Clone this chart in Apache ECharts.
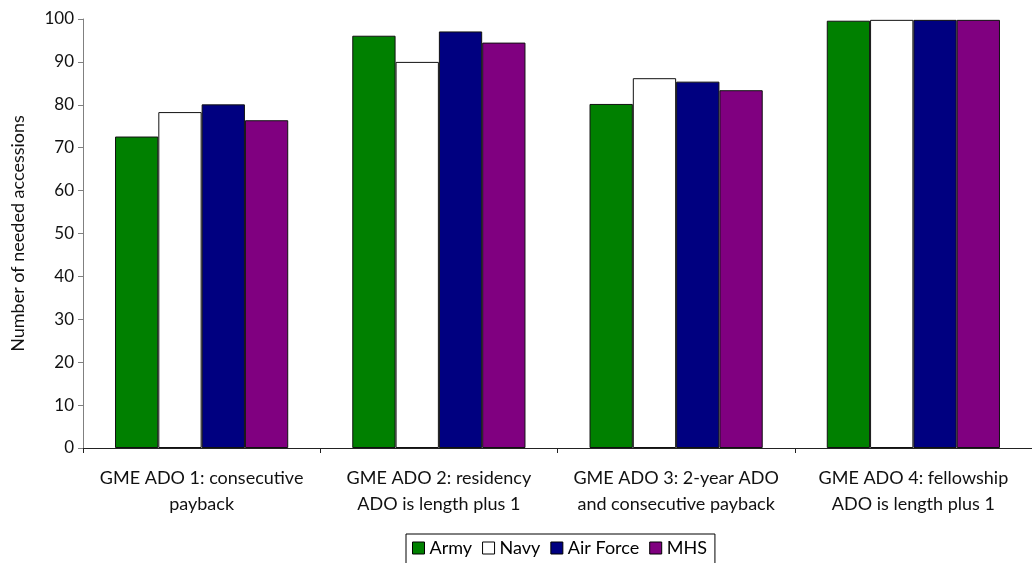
<!DOCTYPE html>
<html>
<head>
<meta charset="utf-8">
<script src="https://cdn.jsdelivr.net/npm/echarts@6/dist/echarts.min.js"></script>
<style>
  html, body { margin: 0; padding: 0; background: #fff; }
  #chart { width: 1032px; height: 563px; }
</style>
</head>
<body>
<div id="chart"></div>
<script>
// GME ADO scenarios (category labels, two lines each)
const categories = [
  'GME ADO 1: consecutive\npayback',
  'GME ADO 2: residency\nADO is length plus 1',
  'GME ADO 3: 2-year ADO\nand consecutive payback',
  'GME ADO 4: fellowship\nADO is length plus 1'
];

// Number of needed accessions per service
const army     = [72.6, 96.1, 80.2, 99.6];
const navy     = [78.3, 90.0, 86.2, 99.8];
const airForce = [80.1, 97.1, 85.4, 99.8];
const mhs      = [76.4, 94.5, 83.4, 99.8];

const yTicks = { min: 0, max: 100, interval: 10 };

const FONT = 'Lato';

function barSeries(name, data, color) {
  return {
    name: name,
    type: 'bar',
    data: data,
    barGap: '0%',
    barCategoryGap: '27%',
    itemStyle: { color: color, borderColor: '#111', borderWidth: 1 },
    emphasis: { disabled: true }
  };
}

const chart = echarts.init(document.getElementById('chart'), null, { renderer: 'canvas' });
chart.setOption({
  animation: false,
  backgroundColor: '#fff',
  textStyle: { fontFamily: FONT },
  grid: { left: 83, top: 19, right: -8, bottom: 115, containLabel: false },
  legend: {
    data: ['Army', 'Navy', 'Air Force', 'MHS'],
    left: 406,
    top: 534,
    orient: 'horizontal',
    icon: 'rect',
    itemWidth: 12,
    itemHeight: 12,
    itemGap: 10,
    padding: [5, 8, 10, 6],
    borderColor: '#000',
    borderWidth: 1,
    textStyle: { fontFamily: FONT, fontSize: 18, color: '#000' },
    itemStyle: { borderColor: '#000', borderWidth: 1 }
  },
  xAxis: {
    type: 'category',
    data: categories,
    axisLine: { lineStyle: { color: '#222', width: 1 } },
    axisTick: { show: true, length: 5, lineStyle: { color: '#222' } },
    axisLabel: {
      fontFamily: FONT, fontSize: 18, color: '#111',
      margin: 17, lineHeight: 26, interval: 0
    },
    splitLine: { show: false }
  },
  yAxis: {
    type: 'value',
    min: yTicks.min,
    max: yTicks.max,
    interval: yTicks.interval,
    name: 'Number of needed accessions',
    nameLocation: 'middle',
    nameGap: 56,
    nameRotate: 90,
    nameTextStyle: { fontFamily: FONT, fontSize: 18, color: '#111' },
    axisLine: { show: true, lineStyle: { color: '#808080', width: 1 } },
    axisTick: { show: true, length: 5, lineStyle: { color: '#808080' } },
    axisLabel: { fontFamily: FONT, fontSize: 17, color: '#111', margin: 9 },
    splitLine: { show: false }
  },
  series: [
    barSeries('Army', army, '#008000'),
    barSeries('Navy', navy, '#ffffff'),
    barSeries('Air Force', airForce, '#000080'),
    barSeries('MHS', mhs, '#800080')
  ]
});
</script>
</body>
</html>
